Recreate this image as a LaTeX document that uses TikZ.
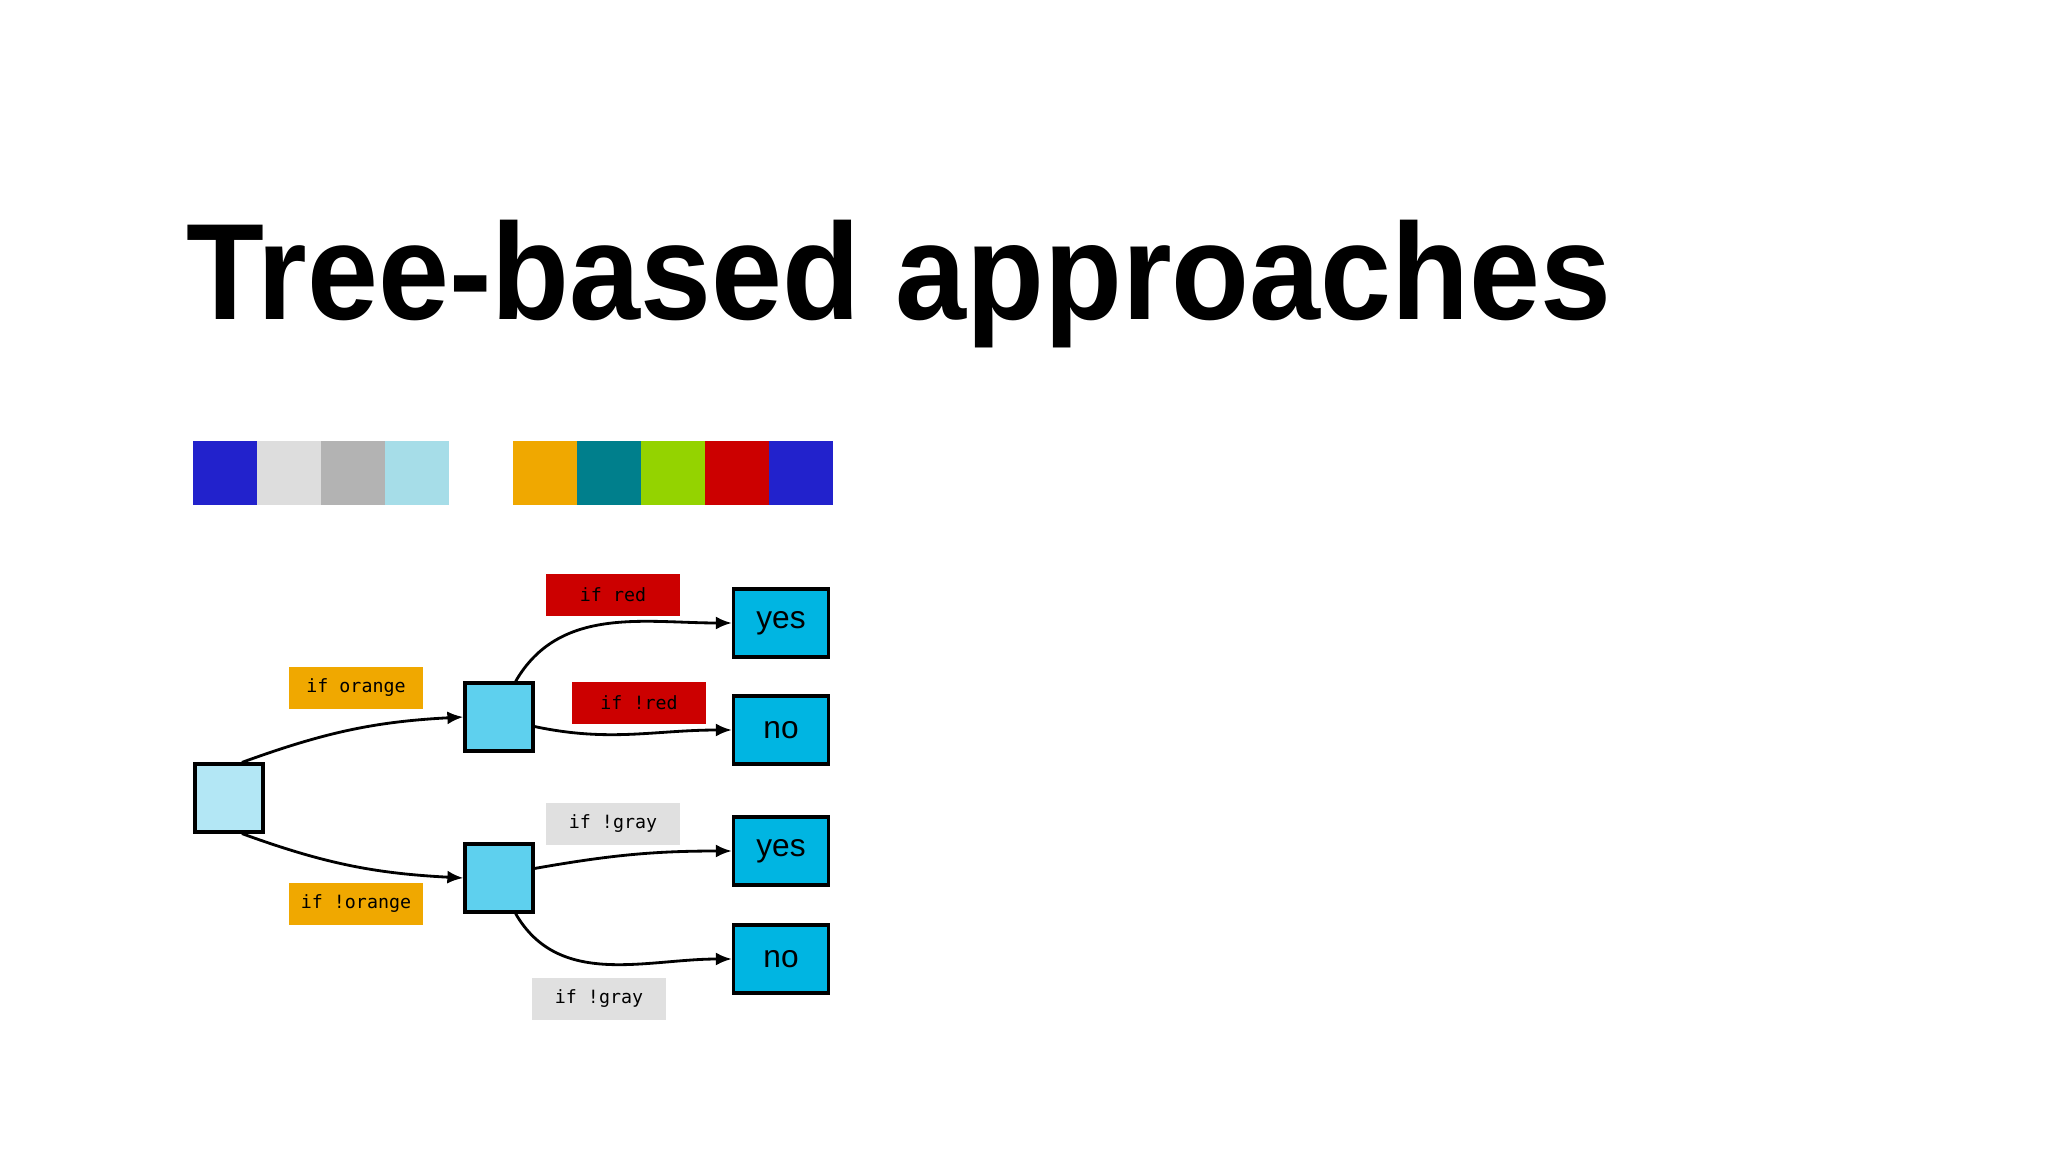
\documentclass[tikz,border=0pt]{standalone}
\usepackage{fontspec}
\setsansfont{Liberation Sans}
\setmonofont{DejaVu Sans Mono}
\usetikzlibrary{arrows.meta,positioning,calc}

\definecolor{barBlue}{HTML}{2222CC}
\definecolor{barLight}{HTML}{DDDDDD}
\definecolor{barGray}{HTML}{B3B3B3}
\definecolor{barCyan}{HTML}{A6DDE8}
\definecolor{barOrange}{HTML}{F0A800}
\definecolor{barTeal}{HTML}{007F8C}
\definecolor{barGreen}{HTML}{94D300}
\definecolor{barRed}{HTML}{CC0000}
\definecolor{rootFill}{HTML}{B3E7F5}
\definecolor{midFill}{HTML}{5ED0EE}
\definecolor{leafFill}{HTML}{00B5E2}
\definecolor{tagGray}{HTML}{E0E0E0}

\begin{document}
\begin{tikzpicture}[x=0.01cm, y=-0.01cm,
		treeBox/.style={
				draw, line width=0.9pt, shape=rectangle,
				minimum width=0.68cm, minimum height=0.68cm, inner sep=0pt
			},
		leafBox/.style={
				treeBox, fill=leafFill,
				minimum width=0.95cm, font=\sffamily\fontsize{9}{10}\selectfont
			},
		condTag/.style={
				shape=rectangle, inner sep=0pt,
				minimum width=1.34cm, minimum height=0.41cm,
				font=\ttfamily\fontsize{5.2}{6}\selectfont
			},
		swatch/.style={inner sep=0pt, minimum size=0.64cm},
		branch/.style={line width=0.8pt, -{Latex[length=1.6mm,width=1.3mm]}}
	]
	\useasboundingbox[fill=white] (0,0) rectangle (2048,1152);

	% title
	\node[anchor=base west, font=\sffamily\bfseries\fontsize{39}{44}\selectfont,
		xscale=0.93, inner sep=0pt] (title) at (186,320) {Tree-based approaches};

	% colour bars
	\foreach \c [count=\i from 0] in {barBlue,barLight,barGray,barCyan}
	\node[swatch, fill=\c, anchor=north west] (left\i) at (192+64*\i,440) {};
	\foreach \c [count=\i from 0] in {barOrange,barTeal,barGreen,barRed,barBlue}
	\node[swatch, fill=\c, anchor=north west] (right\i) at (512+64*\i,440) {};

	% tree
	\node[treeBox, fill=rootFill] (root) at (229,798) {};
	\node[treeBox, fill=midFill] (midA) at (499,717) {};
	\node[treeBox, fill=midFill] (midB) at (499,878) {};
	\node[leafBox] (yesA) at (781,623) {yes};
	\node[leafBox] (noA) at (781,730) {no};
	\node[leafBox] (yesB) at (781,851) {yes};
	\node[leafBox] (noB) at (781,959) {no};

	% conditions
	\node[condTag, fill=barOrange] (tagOrange) at (356,688) {if orange};
	\node[condTag, fill=barOrange] (tagNotOrange) at (356,904) {if !orange};
	\node[condTag, fill=barRed] (tagRed) at (613,595) {if red};
	\node[condTag, fill=barRed] (tagNotRed) at (639,703) {if !red};
	\node[condTag, fill=tagGray] (tagGrayA) at (613,824) {if !gray};
	\node[condTag, fill=tagGray] (tagGrayB) at (599,999) {if !gray};

	\draw[branch] (root.70) to[out=20, in=183] (midA.west);
	\draw[branch] (root.-70) to[out=-20, in=177] (midB.west);
	\draw[branch] (midA.65) to[out=60, in=180] (yesA.west);
	\draw[branch] (midA.-15) to[out=-12, in=180] (noA.west);
	\draw[branch] (midB.15) to[out=10, in=180] (yesB.west);
	\draw[branch] (midB.-65) to[out=-60, in=180] (noB.west);
\end{tikzpicture}
\end{document}
